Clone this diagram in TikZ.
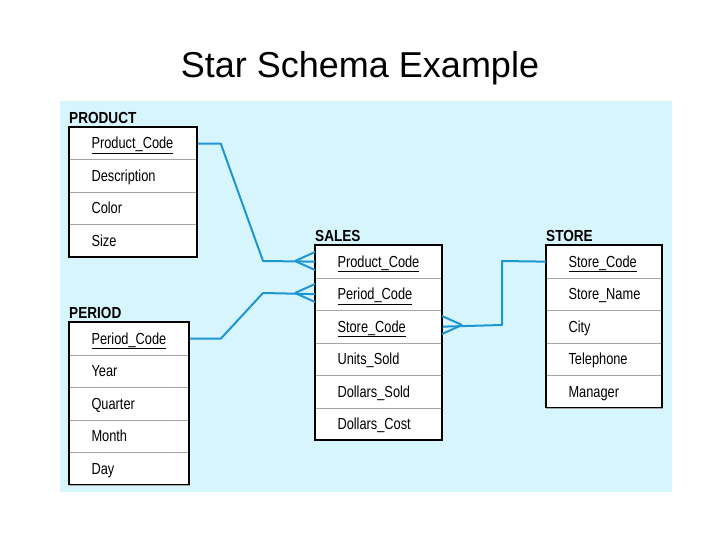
\documentclass[tikz,border=0pt]{standalone}
\usepackage{fontspec}
\setmainfont{Liberation Sans}
\definecolor{bgc}{RGB}{215,245,252}
\definecolor{linkc}{RGB}{30,150,210}
\begin{document}
\begin{tikzpicture}[x=1pt,y=-1pt,
  row/.style={draw=gray!70, line width=0.8pt, fill=white, minimum height=32.5pt, anchor=north west, inner sep=0pt},
  lbl/.style={anchor=base west, font=\fontsize{16}{17}\selectfont\addfontfeature{FakeStretch=0.8}},
  title/.style={anchor=south west, inner sep=0pt, font=\fontsize{16}{17}\selectfont\addfontfeature{FakeStretch=0.85}},
  link/.style={draw=linkc, line width=2pt, line join=round}]
\useasboundingbox (0,0) rectangle (720,540);
\fill[white] (0,0) rectangle (720,540);
\fill[bgc] (60,101) rectangle (672,492);
\node[font=\fontsize{36}{40}\selectfont] (T) at (360,68) {Star Schema Example};
\newcounter{rows}
\newcommand{\mytable}[5]{%
  \node[title] (#1t) at (#2,#3-3) {\bfseries\MakeUppercase{#1}};
  \foreach \lab [count=\i from 0] in {#5} {
    \node[row, minimum width=#4pt] (#1\i) at (#2,#3+\i*32.5) {};
    \node[lbl] at (#2+19,#3+\i*32.5+22) {\lab};
  }
  \draw[black, line width=1.2pt] (#2,#3) rectangle ++(#4,\value{rows}*32.5);
}
\setcounter{rows}{4}
\mytable{Product}{69}{127}{128}{\underline{Product\_Code},Description,Color,Size}
\setcounter{rows}{5}
\mytable{Period}{69}{322}{120}{\underline{Period\_Code},Year,Quarter,Month,Day}
\setcounter{rows}{6}
\mytable{Sales}{315}{245}{127}{\underline{Product\_Code},\underline{Period\_Code},\underline{Store\_Code},Units\_Sold,Dollars\_Sold,Dollars\_Cost}
\setcounter{rows}{5}
\mytable{Store}{546}{245}{116}{\underline{Store\_Code},Store\_Name,City,Telephone,Manager}
\draw[link] (Product0.east) -- ++(23,0) -- (263,261) -- (Sales0.west);
\draw[link] (295,261) -- (315,252) (295,261) -- (315,270);
\draw[link] (Period0.east) -- ++(31,0) -- (263,293) -- (Sales1.west);
\draw[link] (295,293) -- (315,284) (295,293) -- (315,302);
\draw[link] (Store0.west) -- (502,261) -- (502,325) -- (Sales2.east);
\draw[link] (462,325) -- (442,316) (462,325) -- (442,334);
\end{tikzpicture}
\end{document}
